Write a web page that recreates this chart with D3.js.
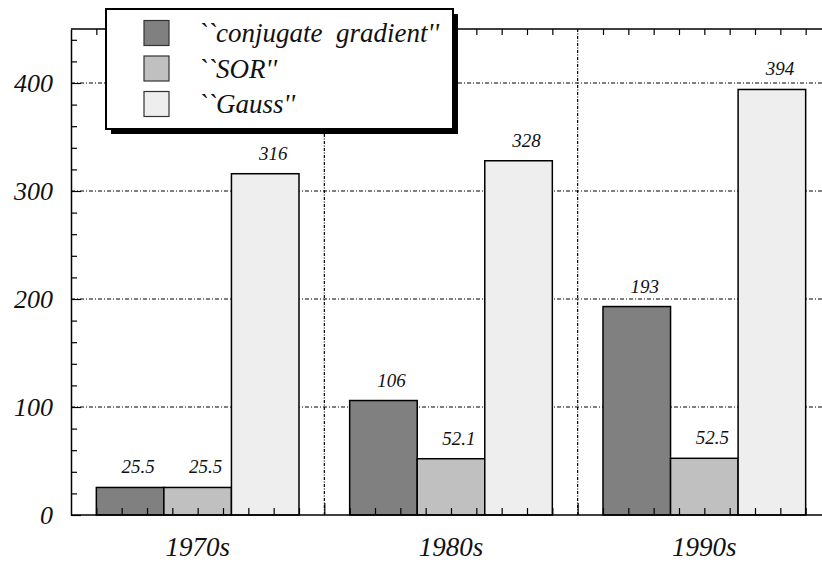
<!DOCTYPE html>
<html>
<head>
<meta charset="utf-8">
<script src="https://cdn.jsdelivr.net/npm/d3@7"></script>
<style>
  body { margin: 0; background: #fff; }
</style>
</head>
<body>
<div id="chart"></div>
<script>
// Data
var decades = ['1970s', '1980s', '1990s']
var seriesNames = ['``conjugate gradient\'\'', '``SOR\'\'', '``Gauss\'\'']
var conjugateGradient = [25.5, 106, 193]
var sor = [25.5, 52.1, 52.5]
var gauss = [316, 328, 394]
var yTicks = [0, 100, 200, 300, 400]

var seriesValues = [conjugateGradient, sor, gauss]
var colors = ['#808080', '#c0c0c0', '#eeeeee']

var svgWidth = 822
var svgHeight = 563
var margin = { top: 29, left: 71, bottom: 48 }
var groupWidth = 253.33
var plotRight = margin.left + groupWidth * decades.length
var height = svgHeight - margin.top - margin.bottom

// serif italic text, set inline so nothing overrides it
function serifText(sel, size) {
  sel
    .style('font-family', '"Liberation Serif", "Times New Roman", serif', 'important')
    .style('font-style', 'italic', 'important')
    .style('font-size', size + 'px')
    .attr('fill', '#111')
}

var svg = d3
  .select('#chart')
  .append('svg')
  .attr('width', svgWidth)
  .attr('height', svgHeight)

// Scales
var xScale = d3
  .scaleBand()
  .domain(decades)
  .range([margin.left, plotRight])

var xInner = d3
  .scaleBand()
  .domain(d3.range(seriesNames.length))
  .range([groupWidth * 0.1, groupWidth * 0.9])

var xTickScale = d3
  .scaleLinear()
  .domain([0, decades.length])
  .range([margin.left, plotRight])

var yScale = d3
  .scaleLinear()
  .domain([0, 450])
  .range([margin.top + height, margin.top])

// Grid lines
svg
  .selectAll('.hgrid')
  .data(yTicks.slice(1))
  .enter()
  .append('line')
  .attr('class', 'hgrid')
  .attr('x1', margin.left)
  .attr('x2', svgWidth)
  .attr('y1', d => yScale(d))
  .attr('y2', d => yScale(d))
  .attr('stroke', '#000')
  .attr('stroke-width', 1)
  .attr('stroke-dasharray', '4,2,1,2')

svg
  .selectAll('.vgrid')
  .data([1, 2])
  .enter()
  .append('line')
  .attr('class', 'vgrid')
  .attr('x1', d => xTickScale(d))
  .attr('x2', d => xTickScale(d))
  .attr('y1', yScale(450))
  .attr('y2', yScale(0))
  .attr('stroke', '#000')
  .attr('stroke-width', 1.2)
  .attr('stroke-dasharray', '3,1.5,1,1.5')

// Bars
var bars = []
decades.forEach(function(dec, i) {
  seriesValues.forEach(function(vals, s) {
    bars.push({ decade: dec, series: s, value: vals[i] })
  })
})

svg
  .selectAll('.bar')
  .data(bars)
  .enter()
  .append('rect')
  .attr('class', 'bar')
  .attr('x', d => xScale(d.decade) + xInner(d.series))
  .attr('y', d => yScale(d.value))
  .attr('width', xInner.bandwidth())
  .attr('height', d => yScale(0) - yScale(d.value))
  .attr('fill', d => colors[d.series])
  .attr('stroke', '#000')
  .attr('stroke-width', 1.5)

// Value labels with white background
var labels = svg
  .selectAll('.value-label')
  .data(bars)
  .enter()
  .append('g')
  .attr('class', 'value-label')
  .attr('transform', d =>
    'translate(' + (xScale(d.decade) + xInner(d.series) + xInner.bandwidth() / 2 + 8) + ',' + (yScale(d.value) - 14) + ')')

labels
  .append('text')
  .text(d => String(d.value))
  .attr('text-anchor', 'middle')
  .call(serifText, 19)
  .each(function() {
    var bb = this.getBBox()
    d3.select(this.parentNode)
      .insert('rect', 'text')
      .attr('x', bb.x - 3)
      .attr('y', bb.y)
      .attr('width', bb.width + 6)
      .attr('height', bb.height)
      .attr('fill', '#fff')
  })

// Axes
var yAxis = d3
  .axisLeft(yScale)
  .tickValues(yTicks)
  .tickSizeInner(-10)
  .tickSizeOuter(0)
  .tickPadding(18)
  .tickFormat(d3.format('d'))

var yAxisG = svg
  .append('g')
  .attr('class', 'axis y-axis')
  .attr('transform', 'translate(' + margin.left + ',0)')
  .call(yAxis)

yAxisG.select('.domain').attr('stroke-width', 1.5)
yAxisG
  .selectAll('text')
  .call(serifText, 26)
  .attr('dy', '0.33em')

var yMinor = d3
  .axisLeft(yScale)
  .tickValues(d3.range(20, 450, 20).filter(d => d % 100 !== 0))
  .tickSizeInner(-6)
  .tickSizeOuter(0)
  .tickFormat('')

svg
  .append('g')
  .attr('class', 'axis y-minor')
  .attr('transform', 'translate(' + margin.left + ',0)')
  .call(yMinor)
  .select('.domain')
  .remove()

var xMinorTicks = d3.range(0, 30).map(d => d / 10).filter(d => d % 1 !== 0)

var xBottom = d3
  .axisBottom(xTickScale)
  .tickValues(xMinorTicks)
  .tickSizeInner(-7)
  .tickSizeOuter(0)
  .tickFormat('')

svg
  .append('g')
  .attr('class', 'axis x-axis')
  .attr('transform', 'translate(0,' + yScale(0) + ')')
  .call(xBottom)
  .select('.domain')
  .remove()

var xBottomMajor = d3
  .axisBottom(xTickScale)
  .tickValues([1, 2])
  .tickSizeInner(-12)
  .tickSizeOuter(0)
  .tickFormat('')

svg
  .append('g')
  .attr('transform', 'translate(0,' + yScale(0) + ')')
  .call(xBottomMajor)
  .select('.domain')
  .remove()

var xTop = d3
  .axisTop(xTickScale)
  .tickValues(xMinorTicks)
  .tickSizeInner(-6)
  .tickSizeOuter(0)
  .tickFormat('')

svg
  .append('g')
  .attr('class', 'axis x-top')
  .attr('transform', 'translate(0,' + yScale(450) + ')')
  .call(xTop)
  .select('.domain')
  .remove()

// Axis lines along bottom and top
svg
  .selectAll('.frame')
  .data([0, 450])
  .enter()
  .append('line')
  .attr('class', 'frame')
  .attr('x1', margin.left)
  .attr('x2', svgWidth)
  .attr('y1', d => yScale(d))
  .attr('y2', d => yScale(d))
  .attr('stroke', '#000')
  .attr('stroke-width', 1.5)

svg.selectAll('.tick line').attr('stroke-width', 1.2)

// Decade labels
svg
  .selectAll('.decade-label')
  .data(decades)
  .enter()
  .append('text')
  .attr('class', 'decade-label')
  .attr('x', d => xScale(d) + xScale.bandwidth() / 2)
  .attr('y', 556)
  .attr('text-anchor', 'middle')
  .call(serifText, 27)
  .text(d => d)

// Legend
var legend = svg.append('g').attr('transform', 'translate(106,9)')
var legendW = 347
var legendH = 120

legend
  .append('rect')
  .attr('x', 5)
  .attr('y', 5)
  .attr('width', legendW)
  .attr('height', legendH)
  .attr('fill', '#000')

legend
  .append('rect')
  .attr('width', legendW)
  .attr('height', legendH)
  .attr('fill', '#fff')
  .attr('stroke', '#000')
  .attr('stroke-width', 2)

var legendRows = legend
  .selectAll('.legend-row')
  .data(seriesNames)
  .enter()
  .append('g')
  .attr('class', 'legend-row')
  .attr('transform', (d, i) => 'translate(0,' + (24 + i * 35.5) + ')')

legendRows
  .append('rect')
  .attr('x', 38)
  .attr('y', -12.5)
  .attr('width', 25)
  .attr('height', 25)
  .attr('fill', (d, i) => colors[i])
  .attr('stroke', '#333')
  .attr('stroke-width', 1.2)

legendRows
  .append('text')
  .attr('x', 92)
  .attr('y', 9)
  .call(serifText, 27)
  .style('white-space', 'pre')
  .text(d => d.replace(' ', '  '))
</script>
</body>
</html>
